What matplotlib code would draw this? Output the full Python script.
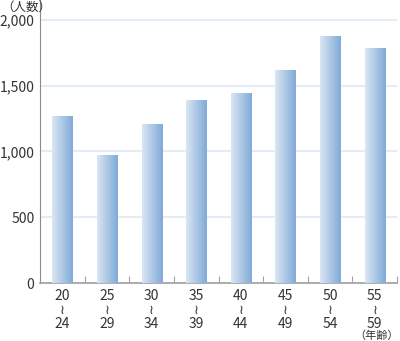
import numpy as np
import matplotlib
matplotlib.use("Agg")
import matplotlib.pyplot as plt
from matplotlib.colors import LinearSegmentedColormap
from matplotlib.ticker import FuncFormatter

plt.rcParams['font.family'] = ['Noto Sans CJK JP', 'DejaVu Sans']

age_from = ["20", "25", "30", "35", "40", "45", "50", "55"]
age_to = ["24", "29", "34", "39", "44", "49", "54", "59"]
counts = [1270, 975, 1205, 1390, 1445, 1620, 1880, 1785]

fig = plt.figure(figsize=(4.0, 3.41), dpi=100)
ax = fig.add_axes([0.10, 0.17, 0.8925, 0.83])

x = np.arange(len(counts))
cmap = LinearSegmentedColormap.from_list("barblue", ["#dae6f3", "#80aad8"])
grad = np.linspace(0, 1, 64).reshape(1, -1)

bars = ax.bar(x, counts, width=0.45, color="none", edgecolor="none", zorder=3)
for b in bars:
    x0, w, h = b.get_x(), b.get_width(), b.get_height()
    im = ax.imshow(grad, cmap=cmap, aspect="auto", extent=[x0, x0 + w, 0, h],
                   zorder=3, interpolation="bilinear")
    im.set_clip_path(b)

ax.set_xlim(-0.5, len(counts) - 0.5)
ax.set_ylim(0, 2150)
ax.set_yticks([0, 500, 1000, 1500, 2000])
ax.yaxis.set_major_formatter(FuncFormatter(lambda v, p: f"{int(v):,}"))
ax.grid(axis="y", color="#e4ecf7", linewidth=1.5, zorder=0)
ax.set_axisbelow(True)

for s in ["top", "right"]:
    ax.spines[s].set_visible(False)
ax.spines["left"].set_color("#8a8a8a")
ax.spines["bottom"].set_color("#a0a0a0")
ax.spines["bottom"].set_linewidth(1.2)
ax.tick_params(axis="y", length=0, pad=4, labelsize=10, labelcolor="#333333")

ax.set_xticks(np.arange(len(counts)) + 0.5)
ax.tick_params(axis="x", direction="in", length=5, color="#a0a0a0",
               labelbottom=False)

trans = ax.get_xaxis_transform()
for i in range(len(counts)):
    ax.text(i, -0.02, age_from[i], transform=trans, ha="center", va="top",
            fontsize=10, color="#333333")
    ax.text(i, -0.097, "\u2240", transform=trans, ha="center", va="center",
            fontsize=9.5, color="#333333", family="DejaVu Sans")
    ax.text(i, -0.12, age_to[i], transform=trans, ha="center", va="top",
            fontsize=10, color="#333333")

fig.text(0.003, 0.998, "（人数）", ha="left", va="top", fontsize=9, color="#333333")
fig.text(0.998, 0.0, "（年齢）", ha="right", va="bottom", fontsize=8, color="#333333")

fig.savefig("out.png", dpi=100)
